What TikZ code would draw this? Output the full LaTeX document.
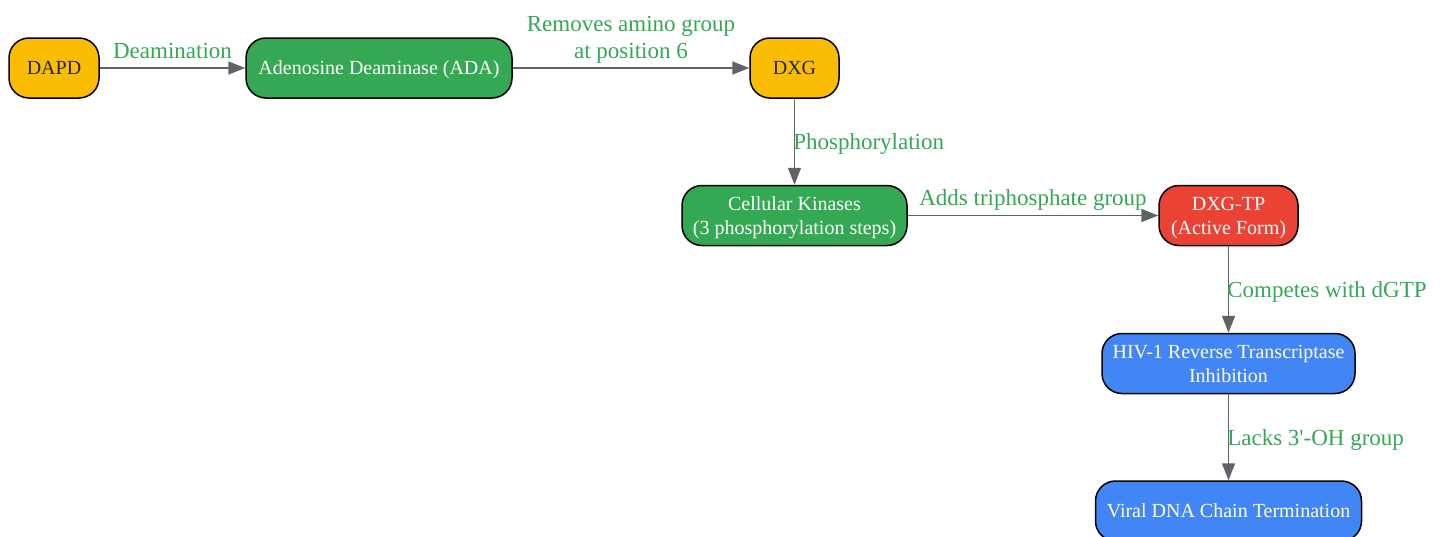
\documentclass[tikz,border=0pt]{standalone}
\usepackage{fontspec}
\setmainfont{Liberation Serif}
\usetikzlibrary{arrows.meta}
\definecolor{gyellow}{HTML}{FBBC04}
\definecolor{ggreen}{HTML}{34A853}
\definecolor{gred}{HTML}{EA4335}
\definecolor{gblue}{HTML}{4285F4}
\definecolor{ggray}{HTML}{5F6368}
\tikzset{
  box/.style={draw=black,line width=1.5pt,rounded corners=20pt,minimum height=60pt,align=center,
    font=\fontsize{20}{24}\selectfont,inner sep=2pt,text depth=0pt},
  drug/.style={box,fill=gyellow,text=black!85},
  enz/.style={box,fill=ggreen,text=white},
  act/.style={box,fill=gred,text=white},
  eff/.style={box,fill=gblue,text=white},
  flow/.style={draw=ggray,line width=1.6pt,-{Triangle[length=17pt,width=13pt]}},
  lab/.style={text=ggreen,font=\fontsize{23}{27}\selectfont,align=center,inner sep=1pt,text depth=6pt},
  sidelab/.style={lab,right,inner sep=0pt,text depth=0pt,xshift=-2pt}
}
\begin{document}
\begin{tikzpicture}[x=1pt,y=-1pt]
            \useasboundingbox (0,0) rectangle (1442,536);
            \node[drug,minimum width=90pt] (dapd) at (54,68) {DAPD};
            \node[enz,minimum width=266pt] (ada) at (379,68) {Adenosine Deaminase (ADA)};
            \node[drug,minimum width=89pt] (dxg) at (794.5,68) {DXG};
            \node[enz,minimum width=225pt] (kin) at (794.5,215.5) {Cellular Kinases\\(3 phosphorylation steps)};
            \node[act,minimum width=139pt] (dxgtp) at (1228.5,215.5) {DXG-TP\\(Active Form)};
            \node[eff,minimum width=253pt] (hiv) at (1228.5,363.5) {HIV-1 Reverse Transcriptase\\Inhibition};
            \node[eff,minimum width=266pt] (term) at (1228.5,511) {Viral DNA Chain Termination};
            \draw[flow] (dapd)--node[lab,above=2pt]{Deamination}(ada);
            \draw[flow] (ada)--node[lab,above=2pt]{Removes amino group\\at position 6}(dxg);
            \draw[flow] (dxg)--node[sidelab]{Phosphorylation}(kin);
            \draw[flow] (kin)--node[lab,above=2pt]{Adds triphosphate group}(dxgtp);
            \draw[flow] (dxgtp)--node[sidelab]{Competes with dGTP}(hiv);
            \draw[flow] (hiv)--node[sidelab]{Lacks 3\textquotesingle-OH group}(term);
        \end{tikzpicture}
\end{document}
